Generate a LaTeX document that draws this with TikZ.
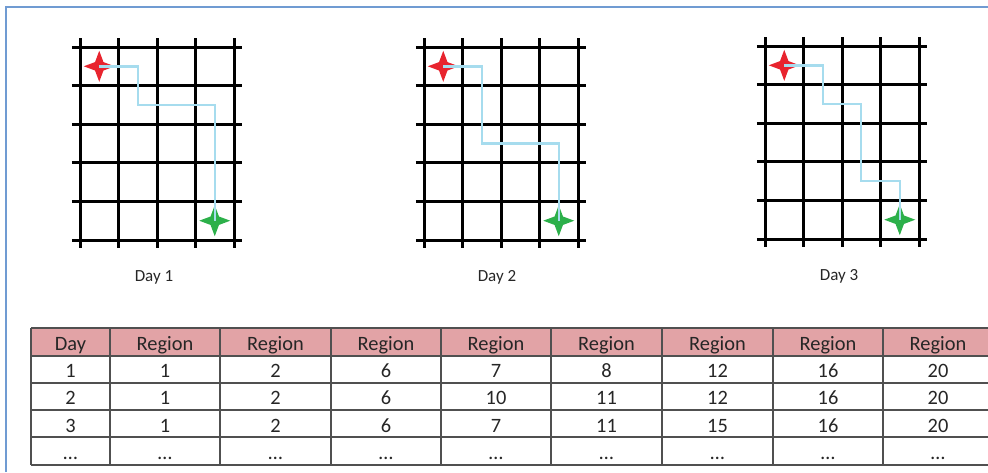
\documentclass[tikz,border=0pt]{standalone}
\usepackage{fontspec}
\setmainfont{Carlito}
\usetikzlibrary{shapes.geometric}
\definecolor{framebl}{RGB}{112,155,210}
\definecolor{routebl}{RGB}{166,220,238}
\definecolor{startred}{RGB}{232,36,46}
\definecolor{goalgr}{RGB}{44,176,74}
\definecolor{headpink}{RGB}{226,163,166}
\definecolor{tabline}{RGB}{80,80,80}

\begin{document}
\begin{tikzpicture}[x=0.5pt,y=-0.5pt]
\tikzset{gridln/.style={line width=1.5pt,black},
  route/.style={routebl,line width=1.2pt,line join=miter},
  sparkle/.style={star,star points=4,star point ratio=2.6,minimum size=15.5pt,inner sep=0pt,fill},
  daylab/.style={font=\fontsize{8.5}{10}\selectfont,anchor=base,text=black!85},
  cell/.style={font=\fontsize{10.2}{12}\selectfont,anchor=base,text=black!85},
  tab/.style={tabline,line width=0.9pt}}

\useasboundingbox (0,0) rectangle (988,472);
\draw[framebl,line width=1pt] (6,472) -- (6,7) -- (988,7);

% Day 1
\begin{scope}[xshift=40pt,yshift=-23.5pt,x=19.25pt,y=-19.3pt]
\foreach \i in {0,...,4} \draw[gridln] (\i,-0.23) -- (\i,5.2);
\foreach \j in {0,...,5} \draw[gridln] (-0.21,\j) -- (4.21,\j);
\node[sparkle,startred] (s1) at (0.5,0.5) {};
\node[sparkle,goalgr] (g1) at (3.5,4.5) {};
\coordinate (p1a) at (1.5,0.5);
\coordinate (p1b) at (1.5,1.5);
\coordinate (p1c) at (3.5,1.5);
\draw[route] (s1.center) -- (p1a) -- (p1b) -- (p1c) -- (g1.center);
\end{scope}
\node[daylab] (day1) at (154,281) {Day 1};

% Day 2
\begin{scope}[xshift=212pt,yshift=-23.5pt,x=19.25pt,y=-19.3pt]
\foreach \i in {0,...,4} \draw[gridln] (\i,-0.23) -- (\i,5.2);
\foreach \j in {0,...,5} \draw[gridln] (-0.21,\j) -- (4.21,\j);
\node[sparkle,startred] (s2) at (0.5,0.5) {};
\node[sparkle,goalgr] (g2) at (3.5,4.5) {};
\coordinate (p2a) at (1.5,0.5);
\coordinate (p2b) at (1.5,2.5);
\coordinate (p2c) at (3.5,2.5);
\draw[route] (s2.center) -- (p2a) -- (p2b) -- (p2c) -- (g2.center);
\end{scope}
\node[daylab] (day2) at (497,281) {Day 2};

% Day 3
\begin{scope}[xshift=382.5pt,yshift=-23pt,x=19.25pt,y=-19.3pt]
\foreach \i in {0,...,4} \draw[gridln] (\i,-0.23) -- (\i,5.2);
\foreach \j in {0,...,5} \draw[gridln] (-0.21,\j) -- (4.21,\j);
\node[sparkle,startred] (s3) at (0.5,0.5) {};
\node[sparkle,goalgr] (g3) at (3.5,4.5) {};
\coordinate (p3a) at (1.5,0.5);
\coordinate (p3b) at (1.5,1.5);
\coordinate (p3c) at (2.5,1.5);
\coordinate (p3d) at (2.5,3.5);
\coordinate (p3e) at (3.5,3.5);
\draw[route] (s3.center) -- (p3a) -- (p3b) -- (p3c) -- (p3d) -- (p3e) -- (g3.center);
\end{scope}
\node[daylab] (day3) at (839,280) {Day 3};

% table
\fill[headpink] (31,328) rectangle (993,356);
\foreach \y in {328,356,383,410,437,465} \draw[tab] (31,\y) -- (993,\y);
\foreach \x in {31,110,220,331,441,551,662,773,883} \draw[tab] (\x,328) -- (\x,465);

\node[cell] (h1) at (70.5,350) {Day};
\foreach \x [count=\i from 2] in {165,275.5,386,496,606.5,717.5,828,938}
  \node[cell] (h\i) at (\x,350) {Region};
\foreach \x/\v [count=\i] in {70.5/1,165/1,275.5/2,386/6,496/7,606.5/8,717.5/12,828/16,938/20}
  \node[cell] (ra\i) at (\x,377) {\v};
\foreach \x/\v [count=\i] in {70.5/2,165/1,275.5/2,386/6,496/10,606.5/11,717.5/12,828/16,938/20}
  \node[cell] (rb\i) at (\x,404) {\v};
\foreach \x/\v [count=\i] in {70.5/3,165/1,275.5/2,386/6,496/7,606.5/11,717.5/15,828/16,938/20}
  \node[cell] (rc\i) at (\x,432) {\v};
\foreach \x [count=\i] in {70.5,165,275.5,386,496,606.5,717.5,828,938}
  \node[cell] (rd\i) at (\x,459) {…};
\end{tikzpicture}
\end{document}
